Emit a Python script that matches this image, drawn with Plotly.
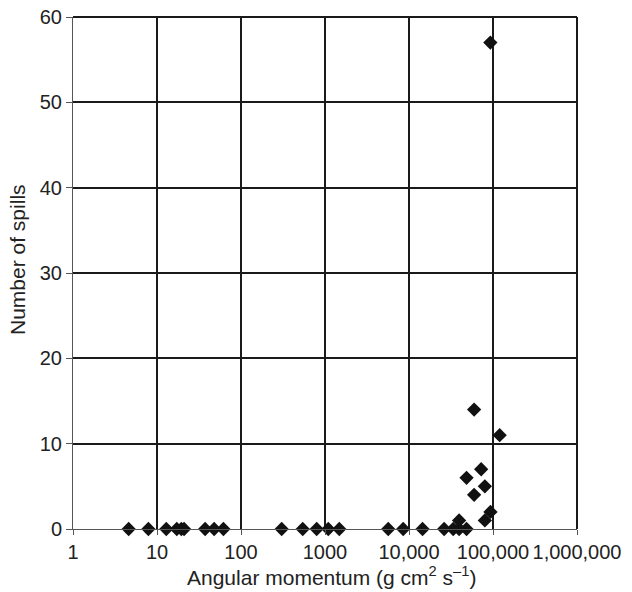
import plotly.graph_objects as go

momentum = [4.6, 7.9, 12.9, 17.2, 19.5, 21, 37.4, 47.9, 61.8, 305, 543, 796, 1094, 1480,
            5660, 8530, 14500, 26200, 33600, 39500, 48400,
            39500, 48400, 59600, 59600, 72300, 80000, 80000, 93300, 120000, 93000]
spills = [0, 0, 0, 0, 0, 0, 0, 0, 0, 0, 0, 0, 0, 0,
          0, 0, 0, 0, 0, 0, 0,
          1, 6, 4, 14, 7, 5, 1, 2, 11, 57]

x_tickvals = [1, 10, 100, 1000, 10000, 100000, 1000000]
x_ticktext = ["1", "10", "100", "1000", "10,000", "100,000", "1,000,000"]
y_tickvals = [0, 10, 20, 30, 40, 50, 60]

x_title = "Angular momentum (g cm<sup>2</sup> s<sup>\u20131</sup>)"
y_title = "Number of spills"

fig = go.Figure()
fig.add_trace(go.Scatter(
    x=momentum, y=spills, mode="markers",
    marker=dict(symbol="diamond", size=11, color="#111111", line=dict(width=0)),
    showlegend=False, cliponaxis=False,
))

font_family = "Liberation Sans, Arial, sans-serif"
fig.update_layout(
    width=632, height=592,
    margin=dict(l=73, r=55, t=17, b=63),
    paper_bgcolor="white", plot_bgcolor="white",
    font=dict(family=font_family, size=20, color="#222222"),
    xaxis=dict(
        type="log", range=[0, 6], automargin=False, tickangle=0,
        tickvals=x_tickvals, ticktext=x_ticktext,
        showgrid=True, gridcolor="#1a1a1a", gridwidth=1.5,
        showline=True, linecolor="#555555", linewidth=1, mirror=False,
        ticks="outside", ticklen=5, tickcolor="#555555",
        zeroline=False,
    ),
    yaxis=dict(
        range=[0, 60], automargin=False,
        tickvals=y_tickvals,
        showgrid=True, gridcolor="#1a1a1a", gridwidth=1.5,
        showline=True, linecolor="#555555", linewidth=1,
        ticks="outside", ticklen=6, tickcolor="#555555",
        zeroline=False,
    ),
    shapes=[
        dict(type="line", xref="paper", yref="paper", x0=0, x1=1, y0=1, y1=1,
             line=dict(color="#1a1a1a", width=2), layer="above"),
        dict(type="line", xref="paper", yref="paper", x0=1, x1=1, y0=0, y1=1,
             line=dict(color="#1a1a1a", width=2), layer="above"),
    ],
    annotations=[
        dict(text=x_title, xref="paper", yref="paper", x=0.5, y=0,
             xanchor="center", yanchor="middle", xshift=6, yshift=-47,
             showarrow=False, font=dict(size=21)),
        dict(text=y_title, xref="paper", yref="paper", x=0, y=0.5,
             xanchor="center", yanchor="middle", xshift=-56, yshift=13,
             textangle=-90, showarrow=False, font=dict(size=21)),
    ],
)

fig.write_html("out.html")
